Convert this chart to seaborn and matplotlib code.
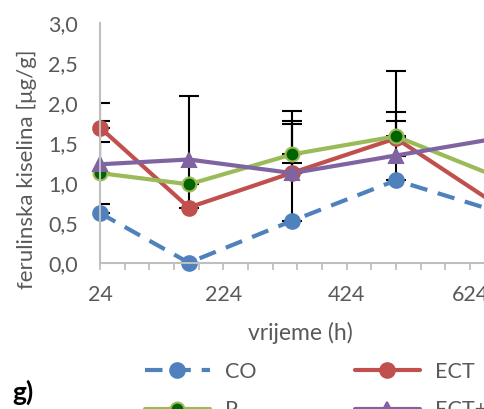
import matplotlib.pyplot as plt
import numpy as np
import pandas as pd
import seaborn as sns
from matplotlib.ticker import FixedLocator

# sampling times (h)
hours = [24, 168, 336, 504, 672]

# mean values [ug/g]
co = [0.62, 0.00, 0.525, 1.03, 0.63]
ect = [1.69, 0.69, 1.125, 1.555, 0.70]
p = [1.12, 0.98, 1.355, 1.58, 1.06]
ect_p = [1.23, 1.29, 1.12, 1.34, 1.56]

# upper error bars
co_err = [0.11, 0.0, 1.375, 0.85, 0.10]
ect_err = [0.30, 1.39, 0.615, 0.845, 0.10]
p_err = [0.655, 0.0, 0.42, 0.195, 0.10]
ect_p_err = [0.28, 0.0, 0.13, 0.0, 0.10]

series = ["CO", "ECT", "P", "ECT+P"]
values = [co, ect, p, ect_p]
errors = [co_err, ect_err, p_err, ect_p_err]

styles = {
    "CO": dict(color="#4f81bd", marker="o", mfc="#4f81bd", mec="#4f81bd", ms=10.5, dashes=(4.2, 2.6)),
    "ECT": dict(color="#c0504d", marker="o", mfc="#c0504d", mec="#c0504d", ms=10.5, dashes=None),
    "P": dict(color="#9bbb59", marker="o", mfc="#006400", mec="#9bbb59", ms=10, dashes=None),
    "ECT+P": dict(color="#8064a2", marker="^", mfc="#8064a2", mec="#8064a2", ms=10.5, dashes=None),
}

sns.set_theme(style="white")
plt.rcParams["font.family"] = ["Lato", "DejaVu Sans"]
text_col = "#595959"
axis_col = "#bfbfbf"

fig = plt.figure(figsize=(4.84, 4.09), dpi=100)
ax = fig.add_axes([0.2066, 0.3577, 0.7934, 0.5868])

for name, vals, err in zip(series, values, errors):
    df = pd.DataFrame({"h": hours, "v": vals})
    st = styles[name]
    ax.errorbar(hours, vals, yerr=[np.zeros(len(err)), err], fmt="none",
                ecolor="black", elinewidth=1.5, capsize=7, capthick=1.5, zorder=1.5)
    line_kw = dict(color=st["color"], linewidth=3, marker=st["marker"],
                   markersize=st["ms"], markerfacecolor=st["mfc"],
                   markeredgecolor=st["mec"], markeredgewidth=1.5, label=name)
    sns.lineplot(data=df, x="h", y="v", ax=ax, legend=False, **line_kw)
    ax.lines[-1].set_clip_on(False)
    if st["dashes"]:
        ax.lines[-1].set_dashes(st["dashes"])

ax.set_xlim(24, 646.7)
ax.set_ylim(0, 3)
ax.xaxis.set_major_locator(FixedLocator([24, 224, 424, 624]))
ax.xaxis.set_minor_locator(FixedLocator(np.arange(24, 660, 40)))
ax.set_yticks(np.arange(0, 3.01, 0.5))
ax.set_yticklabels([f"{v:.1f}".replace(".", ",") for v in np.arange(0, 3.01, 0.5)])

for s in ["top", "right"]:
    ax.spines[s].set_visible(False)
for s in ["left", "bottom"]:
    ax.spines[s].set_color(axis_col)
    ax.spines[s].set_linewidth(1.5)

ax.tick_params(axis="x", which="both", direction="out", length=5, width=1.3,
               color=axis_col, labelsize=15.5, labelcolor=text_col, pad=11, bottom=True)
ax.tick_params(axis="y", length=0, labelsize=15.5, labelcolor=text_col, pad=16)
ax.grid(False)

ax.set_xlabel("vrijeme (h)", fontsize=16.5, color=text_col)
ax.set_ylabel("ferulinska kiselina [μg/g]", fontsize=16, color=text_col)
ax.xaxis.set_label_coords(0.521, -0.245)
ax.yaxis.set_label_coords(-0.165, 0.39)
ax.xaxis.label.set_va("top")

by_name = {h.get_label(): h for h in ax.get_lines() if h.get_label() in series}
order = ["CO", "P", "ECT", "ECT+P"]
leg = fig.legend([by_name[n] for n in order], order, ncol=2, loc="upper left",
                 bbox_to_anchor=(0.2996, 0.1152), frameon=False, fontsize=15.5,
                 handlelength=3.0, handletextpad=0.7, columnspacing=4.6,
                 labelspacing=0.85, borderpad=0, borderaxespad=0)
for t in leg.get_texts():
    t.set_color(text_col)

fig.text(12 / 484, 1 - 392 / 409, "g)", fontsize=19, fontweight="bold",
         color="black", ha="left", va="center")

plt.savefig("out.png", dpi=100)
